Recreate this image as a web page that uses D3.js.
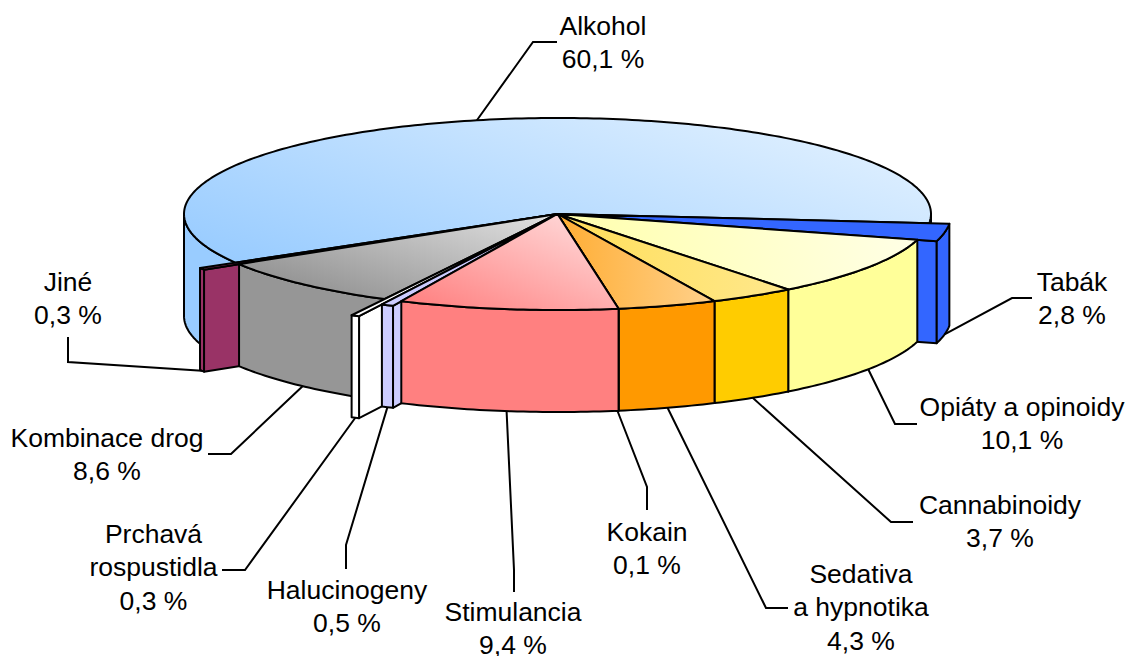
<!DOCTYPE html>
<html>
<head>
<meta charset="utf-8">
<title>Drogy</title>
<script src="https://cdn.jsdelivr.net/npm/d3@7"></script>
<style>
  html, body { margin: 0; padding: 0; background: #fff; overflow: hidden; }
  svg { display: block; }
  text { font-family: "Liberation Sans", Arial, sans-serif; font-size: 26.5px; fill: #000; }
</style>
</head>
<body>
<div id="chart"></div>
<script>
// Pie order, clockwise from the Tabak wedge
const categories = ['Tabák', 'Opiáty a opinoidy', 'Cannabinoidy', 'Sedativa\na hypnotika', 'Kokain',
  'Stimulancia', 'Halucinogeny', 'Prchavá\nrospustidla', 'Kombinace drog', 'Jiné', 'Alkohol'];
const shares = [2.8, 10.1, 3.7, 4.3, 0.1, 9.4, 0.5, 0.3, 8.6, 0.3, 60.1];

// Styling and layout, by category
const colors = ['#3366ff', '#ffff99', '#ffcc00', '#ff9900', '#ff6600', '#ff8080', '#ccccff', '#ffffff', '#969696', '#993366', '#99ccff'];
const pullOut = [1.054, 1, 1, 1, 1, 1, 1.053, 1.19, 1, 1.11, 1];
// top face fade towards white: [from, to, direction x, direction y]
const fades = [[0, 0, 0, -1], [0.2, 0.75, 1, -0.2], [0.35, 0.55, 1, 0], [0.2, 0.55, 1, 0], [0, 0, 0, -1], [0, 0.65, 0.4, -0.92],
  [0, 0, 0, -1], [0, 0, 0, -1], [0, 0.72, 0.3, -0.95], [0, 0, 0, -1], [0, 0.64, 0.32, -0.95]];
const labelAt = [[1072, 291], [1022, 416], [1000, 514], [861, 583], [647, 541], [513, 621], [347, 599], [153.5, 543], [107, 447], [68, 291], [603, 35]];
const elbows = [[[1012, 298], [1032, 298]], [[895, 424], [917, 424]], [[891, 522], [913, 522]], [[766, 608], [788, 608]],
  [[647, 487], [647, 510]], [[514, 570], [514, 592]], [[346, 545], [346, 569]], [[245, 570], [222, 570]],
  [[231, 454], [208, 454]], [[68, 362], [68, 337]], [[533, 42], [557, 42]]];

const W = 1130, H = 656;
const cx = 557.5, cy = 214, rx = 373.5, ry = 96, depth = 102;
const START_DEG = 95.5;
const LINE_H = 33.3;

const x = d3.scaleLinear().domain([-1, 1]).range([cx - rx, cx + rx]);
const y = d3.scaleLinear().domain([-1, 1]).range([cy - ry, cy + ry]);
const rad = d => d * Math.PI / 180;
const pt = (a, r, dz = 0) => [x(r * Math.sin(a)), y(-r * Math.cos(a)) + dz];
const outline = d3.line();

const svg = d3.select('#chart').append('svg').attr('width', W).attr('height', H);
const defs = svg.append('defs');

const arcs = d3.pie().sort(null).value(d => d)
  .startAngle(rad(START_DEG)).endAngle(rad(START_DEG + 360))(shares)
  .map((d, i) => ({ ...d, i, r: pullOut[i], mid: (d.startAngle + d.endAngle) / 2, a0: d.startAngle, a1: d.endAngle }));

// A sliver thinner than the outline would print as a double line, so the next wedge paints over it
arcs.forEach((d, i) => {
  if (x(d.r * Math.sin(d.a0)) - x(d.r * Math.sin(d.a1)) < 3 && d.r === 1 && arcs[i + 1]) arcs[i + 1].a0 = d.a0;
});

function arcPoints(a0, a1, r, dz = 0) {
  const n = Math.max(2, Math.ceil(Math.abs(a1 - a0) / rad(1)));
  return d3.range(n + 1).map(k => pt(a0 + (a1 - a0) * k / n, r, dz));
}

// Top face gradient spans the wedge's own extent along the wedge's direction
function topGradient(d, pts) {
  const [from, to, dx, dy] = fades[d.i];
  const proj = pts.map(p => p[0] * dx + p[1] * dy);
  const lo = d3.min(proj), hi = d3.max(proj), m0 = d3.mean(proj);
  const mx = d3.mean(pts, p => p[0]), my = d3.mean(pts, p => p[1]);
  const len = dx * dx + dy * dy;
  const id = `top-${d.i}`;
  const g = defs.append('linearGradient').attr('id', id).attr('gradientUnits', 'userSpaceOnUse')
    .attr('x1', mx + dx * (lo - m0) / len).attr('y1', my + dy * (lo - m0) / len)
    .attr('x2', mx + dx * (hi - m0) / len).attr('y2', my + dy * (hi - m0) / len);
  const fade = d3.interpolateRgb(colors[d.i], '#fff');
  g.append('stop').attr('offset', 0).attr('stop-color', fade(from));
  g.append('stop').attr('offset', 1).attr('stop-color', fade(to));
  return `url(#${id})`;
}

const face = (g, pts, fill) => g.append('path')
  .attr('d', outline(pts) + 'Z')
  .attr('fill', fill).attr('stroke', '#000').attr('stroke-width', 2).attr('stroke-linejoin', 'round');

// Back to front
const slices = svg.append('g');
arcs.slice().sort((a, b) => d3.ascending(-Math.cos(a.mid), -Math.cos(b.mid))).forEach(d => {
  const g = slices.append('g');
  const fill = colors[d.i];
  const { a0, a1 } = d;

  // radial cut faces
  const sideAt = a => [pt(0, 0), pt(a, d.r), pt(a, d.r, depth), pt(0, 0, depth)];
  if (Math.sin(a0) < 0) face(g, sideAt(a0), fill);
  if (Math.sin(a1) > 0) face(g, sideAt(a1), fill);

  // outer wall, front half only
  [[rad(90), rad(270)], [rad(450), rad(630)]].forEach(([f0, f1]) => {
    const s = Math.max(a0, f0), e = Math.min(a1, f1);
    if (e <= s) return;
    face(g, arcPoints(s, e, d.r).concat(arcPoints(e, s, d.r, depth)), fill);
  });

  // top
  const topPts = [pt(0, 0)].concat(arcPoints(a0, a1, d.r));
  face(g, topPts, topGradient(d, topPts));
});

// Leader lines
svg.append('g').selectAll('path').data(arcs).enter().append('path')
  .attr('d', d => {
    const front = Math.cos(d.mid) < 0;
    return outline([pt(d.mid, d.r, front ? depth : 0)].concat(elbows[d.i]));
  })
  .attr('fill', 'none').attr('stroke', '#000').attr('stroke-width', 2);

// Labels
const labels = svg.append('g').selectAll('text').data(arcs).enter().append('text')
  .attr('text-anchor', 'middle')
  .attr('x', d => labelAt[d.i][0])
  .attr('y', d => labelAt[d.i][1]);
labels.each(function(d) {
  const lines = categories[d.i].split('\n').concat(`${d.data.toFixed(1).replace('.', ',')} %`);
  d3.select(this).selectAll('tspan').data(lines).enter().append('tspan')
    .attr('x', labelAt[d.i][0])
    .attr('y', (_, k) => labelAt[d.i][1] + k * LINE_H)
    .text(t => t);
});
</script>
</body>
</html>
